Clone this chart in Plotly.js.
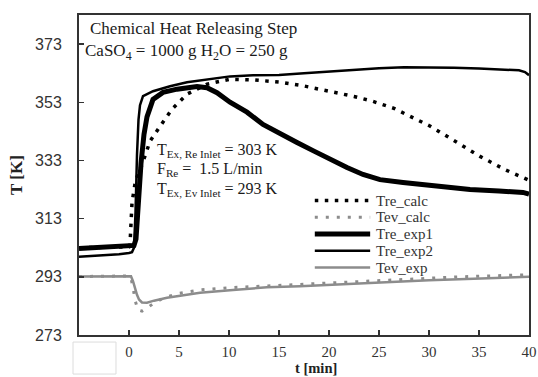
<!DOCTYPE html>
<html>
<head>
<meta charset="utf-8">
<script src="https://cdn.plot.ly/plotly-3.0.1.min.js"></script>
<style>html,body{margin:0;padding:0;background:#fff;}#chart{width:538px;height:377px;}</style>
</head>
<body>
<div id="chart"></div>
<script>
// ---- data ----
var tTreCalc = [-5, -2, 0, 0.1, 0.3, 0.6, 1.0, 1.3, 2.1, 3.1, 4.3, 5.8, 7.8, 9.1, 10.1, 12.5, 15.1, 17.5, 20.1, 22.5, 24.4, 26.5, 28.1, 30, 31.8, 33.5, 35.1, 37.5, 39.4, 40];
var treCalc  = [303.0, 303.2, 303.3, 304, 318.5, 325, 329.5, 331.5, 339.6, 344.7, 350.6, 355.8, 359.2, 360.2, 360.9, 360.7, 359.9, 358.6, 356.8, 355.0, 353.3, 350.9, 348.2, 345, 341.3, 337.8, 334.4, 330, 327.1, 326.2];

var tTevCalc = [-5, -2, 0, 0.2, 0.4, 0.6, 0.9, 1.3, 1.7, 2.5, 3.5, 5, 7.1, 10.4, 13.8, 17, 20, 23, 27, 30, 33, 37, 40];
var tevCalc  = [293.1, 293.2, 293.3, 292.5, 289.5, 285, 281.6, 281.2, 282.0, 284.0, 285.8, 287.3, 288.5, 289.3, 289.9, 290.3, 290.8, 291.3, 292.0, 292.5, 293.0, 293.4, 293.7];

var tTreExp1 = [-5, -3, -1, 0, 0.5, 0.7, 0.9, 1.2, 1.5, 1.8, 2.4, 3.4, 4.8, 5.8, 6.8, 7.8, 8.8, 10.1, 11.8, 13.4, 15, 16.8, 18.5, 20.1, 21.8, 23.4, 25.1, 27.4, 30.8, 34.1, 37, 39.4, 40];
var treExp1  = [302.7, 303.0, 303.3, 303.5, 303.8, 306, 318, 332, 342, 348, 354.0, 356.4, 357.5, 358.1, 358.4, 358.0, 356.3, 353.0, 349.6, 345.4, 342.3, 339.2, 336.2, 333.3, 330.6, 328.2, 326.4, 325.4, 324.0, 323.0, 322.5, 322.0, 321.4];

var tTreExp2 = [-5, -3, -1, 0, 0.3, 0.5, 0.65, 0.8, 0.95, 1.1, 1.4, 2.4, 4.1, 5.8, 7.8, 10.1, 12.4, 15, 17.5, 20, 22.5, 25, 27.5, 30, 32.5, 35, 37.5, 39, 39.6, 40];
var treExp2  = [299.9, 300.3, 300.8, 301.2, 301.5, 303, 315, 335, 347, 352, 355.1, 356.8, 358.5, 359.9, 360.9, 361.9, 362.3, 362.4, 363.0, 363.6, 364.2, 364.7, 365.0, 365.0, 364.9, 364.6, 364.3, 364.0, 363.4, 362.3];

var tTevExp = [-5, -3, -1, 0, 0.2, 0.4, 0.6, 0.8, 1.0, 1.3, 1.8, 2.5, 3.8, 5, 7.1, 10.4, 13.8, 17.1, 20, 23, 27.1, 30, 33, 37.1, 40];
var tevExp  = [293.1, 293.2, 293.3, 293.4, 293.2, 291.5, 289, 286.8, 285.2, 284.2, 284.1, 284.8, 285.8, 286.5, 287.5, 288.5, 289.4, 289.8, 290.3, 290.8, 291.3, 291.8, 292.2, 292.6, 293.0];

var seriesNames = ['Tre_calc', 'Tev_calc', 'Tre_exp1', 'Tre_exp2', 'Tev_exp'];
var xTicks = [0, 5, 10, 15, 20, 25, 30, 35, 40];
var yTicks = [273, 293, 313, 333, 353, 373];

// ---- styles ----
var GREY = '#8c8c8c';
var styles = [
  {color: '#000', width: 3.5, dash: '3.5px,6.5px'},
  {color: GREY, width: 3, dash: '3px,8px'},
  {color: '#000', width: 5, dash: 'solid'},
  {color: '#000', width: 2.5, dash: 'solid'},
  {color: GREY, width: 2.5, dash: 'solid'}
];
var xs = [tTreCalc, tTevCalc, tTreExp1, tTreExp2, tTevExp];
var ys = [treCalc, tevCalc, treExp1, treExp2, tevExp];
var order = [1, 4, 0, 2, 3]; // drawing order

var traces = order.map(function (i) {
  return {
    x: xs[i], y: ys[i], name: seriesNames[i], type: 'scatter', mode: 'lines',
    line: {color: styles[i].color, width: styles[i].width, dash: styles[i].dash, shape: 'linear'},
    showlegend: false, hoverinfo: 'skip'
  };
});

var SERIF = '"Liberation Serif", "Times New Roman", serif';
var SANS = '"Liberation Sans", Arial, sans-serif';
var TXT = '#1a1a1a';

// manual legend (compact row spacing like the reference)
var shapes = [];
var annotations = [];
var legX0 = 0.524, legX1 = 0.647, legTextX = 0.657;
var legRows = [0.4203, 0.3680, 0.3156, 0.2633, 0.2109];
seriesNames.forEach(function (nm, i) {
  shapes.push({type: 'line', xref: 'paper', yref: 'paper', x0: legX0, x1: legX1, y0: legRows[i], y1: legRows[i],
    line: {color: styles[i].color, width: styles[i].width, dash: styles[i].dash}});
  annotations.push({xref: 'paper', yref: 'paper', x: legTextX, y: legRows[i], xanchor: 'left', yanchor: 'middle',
    borderpad: 0, text: nm, showarrow: false, font: {family: SERIF, size: 15, color: '#333'}});
});

// white box covering the -5 tick label
shapes.push({type: 'rect', xref: 'paper', yref: 'paper', x0: -0.0133, x1: 0.0822, y0: -0.022, y1: -0.122,
  fillcolor: '#fff', line: {color: '#dcdcdc', width: 1}, layer: 'above'});

function note(txt, x, y, size) {
  annotations.push({xref: 'paper', yref: 'paper', x: x, y: y, xanchor: 'left', yanchor: 'middle',
    text: txt, showarrow: false, font: {family: SERIF, size: size, color: TXT}});
}
note('Chemical Heat Releasing Step', 0.02, 0.959, 17);
note('CaSO<sub>4</sub> = 1000 g H<sub>2</sub>O = 250 g', 0.009, 0.884, 17);
note('T<sub>Ex, Re Inlet</sub> = 303 K', 0.169, 0.578, 16);
note('F<sub>Re</sub> =  1.5 L/min', 0.169, 0.516, 16);
note('T<sub>Ex, Ev Inlet</sub> = 293 K', 0.169, 0.456, 16);

// x-axis title placed just below the tick labels, at the bottom edge as in the reference
annotations.push({xref: 'paper', yref: 'paper', x: 0.527, y: -0.1309, xanchor: 'center', yanchor: 'bottom',
  borderpad: 0, text: '<b>t [min]</b>', showarrow: false, font: {family: SERIF, size: 14.5, color: '#222'}});

var layout = {
  width: 538, height: 377,
  margin: {l: 79, r: 9, t: 15, b: 42, pad: 0},
  paper_bgcolor: '#fff', plot_bgcolor: '#fff',
  showlegend: false,
  xaxis: {
    range: [-5, 40], tickvals: xTicks, ticktext: xTicks.map(String),
    ticks: 'inside', ticklen: 5, tickwidth: 1.5, tickcolor: '#333',
    showline: true, mirror: true, linecolor: '#333', linewidth: 2,
    showgrid: false, zeroline: false,
    tickfont: {family: SERIF, size: 15, color: '#333'}, ticklabelstandoff: 2
  },
  yaxis: {
    range: [273, 383], tickvals: yTicks, ticktext: yTicks.map(String),
    ticks: 'inside', ticklen: 5, tickwidth: 1.5, tickcolor: '#333',
    showline: true, mirror: true, linecolor: '#333', linewidth: 2,
    showgrid: false, zeroline: false,
    tickfont: {family: SANS, size: 16, color: '#333'}, ticklabelstandoff: 12,
    title: {text: '<b>T [K]</b>', font: {family: SERIF, size: 17, color: '#222'}, standoff: 8}
  },
  shapes: shapes,
  annotations: annotations
};

Plotly.newPlot('chart', traces, layout, {staticPlot: true, displayModeBar: false});
</script>
</body>
</html>
